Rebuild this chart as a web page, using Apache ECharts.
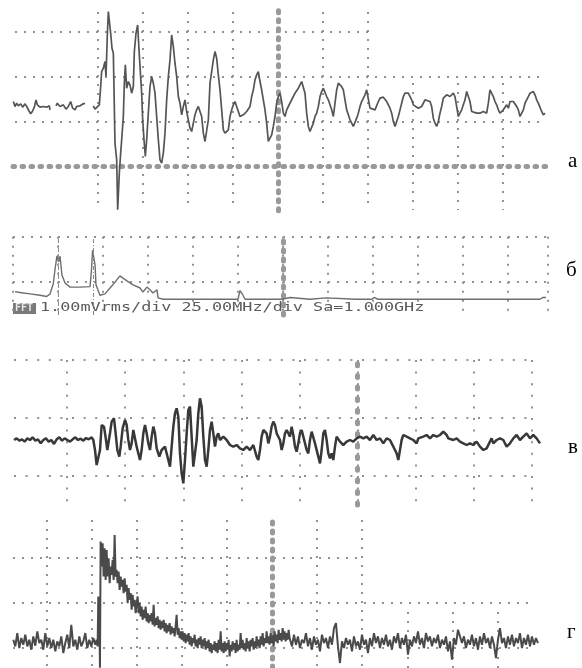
<!DOCTYPE html>
<html><head><meta charset="utf-8">
<script src="https://cdn.jsdelivr.net/npm/echarts@6/dist/echarts.min.js"></script>
<style>html,body{margin:0;padding:0;background:#fff}#c{width:582px;height:668px}</style>
</head><body><div id="c"></div>
<script>
// ---- panel а : transient signal (time in samples, amplitude in ADC counts, 0 = trigger / centre)
const traceA = [[-794,193],[-789,178],[-784,188],[-779,180],[-772,186],[-766,176],[-759,186],[-754,178],[-746,163],[-742,156],[-737,163],[-731,176],[-726,198],[-722,183],[-714,176],[-704,178],[-694,176],[-686,180],[-684,168],[-675,null],[-666,180],[-662,188],[-654,178],[-644,183],[-636,170],[-629,178],[-622,193],[-616,173],[-609,168],[-604,178],[-594,180],[-584,186],[-579,188],[-566,null],[-554,180],[-549,170],[-544,176],[-536,183],[-532,238],[-529,283],[-524,293],[-519,313],[-516,268],[-512,393],[-509,463],[-506,463],[-502,398],[-498,353],[-494,338],[-489,68],[-484,18],[-481,-132],[-478,-132],[-476,-22],[-472,38],[-469,78],[-464,148],[-461,248],[-458,303],[-454,233],[-449,253],[-444,243],[-439,218],[-434,238],[-431,343],[-426,398],[-421,423],[-417,348],[-414,343],[-409,218],[-406,138],[-402,78],[-398,28],[-394,78],[-389,158],[-384,238],[-379,268],[-374,248],[-369,218],[-364,148],[-359,78],[-354,18],[-349,8],[-344,38],[-339,98],[-334,198],[-329,268],[-324,318],[-319,393],[-314,358],[-309,308],[-304,268],[-299,208],[-294,188],[-289,153],[-284,178],[-279,198],[-274,163],[-269,138],[-264,113],[-259,103],[-254,128],[-249,153],[-244,168],[-239,178],[-234,163],[-229,148],[-224,98],[-219,73],[-214,68],[-209,138],[-204,248],[-199,283],[-194,318],[-189,343],[-184,323],[-179,273],[-174,228],[-169,168],[-164,108],[-159,98],[-154,93],[-149,108],[-144,148],[-139,168],[-134,183],[-129,193],[-124,178],[-119,163],[-114,148],[-109,153],[-104,153],[-94,163],[-84,178],[-79,208],[-74,228],[-69,258],[-64,273],[-59,283],[-54,253],[-49,228],[-44,198],[-39,168],[-34,128],[-29,73],[-24,78],[-19,93],[-14,118],[-9,148],[-4,188],[1,208],[6,218],[11,193],[16,158],[21,148],[26,168],[31,178],[36,183],[51,218],[61,233],[71,253],[76,248],[81,218],[86,158],[91,118],[96,103],[101,108],[106,128],[111,148],[116,158],[121,178],[126,208],[131,223],[136,233],[141,228],[146,208],[151,198],[161,168],[166,148],[171,188],[176,228],[181,248],[186,253],[191,238],[196,228],[201,198],[206,168],[211,153],[216,138],[221,128],[226,118],[231,123],[236,143],[241,158],[246,178],[251,193],[256,198],[261,213],[266,228],[271,223],[276,173],[281,168],[291,168],[296,173],[301,193],[306,203],[316,206],[321,208],[326,193],[336,173],[341,158],[346,133],[351,118],[356,123],[361,148],[366,168],[371,188],[376,208],[381,218],[386,213],[391,218],[396,213],[401,198],[406,183],[411,178],[421,173],[431,178],[436,183],[441,198],[446,203],[456,193],[461,178],[466,143],[471,128],[476,118],[481,133],[486,158],[491,178],[496,203],[501,208],[506,213],[516,208],[526,218],[531,208],[536,178],[541,148],[546,153],[551,168],[556,173],[561,198],[566,223],[571,223],[576,193],[581,163],[586,168],[596,158],[606,158],[616,163],[626,158],[631,188],[636,228],[641,233],[646,208],[651,193],[656,183],[661,168],[666,158],[676,168],[686,183],[691,173],[696,193],[701,198],[706,193],[716,178],[721,168],[726,148],[731,153],[736,168],[741,188],[746,198],[751,208],[756,218],[761,213],[766,223],[771,213],[776,198],[781,188],[786,183],[791,163],[796,153],[801,158]];

// ---- panel б : FFT spectrum (frequency MHz, amplitude mVrms)
const fftFreq = [1.1,3.9,9.4,15.0,18.7,20.6,22.4,23.3,24.4,25.3,26.1,27.2,28.9,29.8,31.7,37.2,42.8,43.6,44.2,45.0,45.6,46.1,48.3,51.1,53.9,56.7,59.4,61.1,63.3,66.7,70.6,72.2,74.4,76.1,77.8,80.0,80.6,83.3,125.0,126.1,127.8,128.9,149.4,150.0,153.9,154.4,165.0,165.6,173.9,174.4,190.6,191.1,193.9,199.4,200.6,202.8,213.9,215.0,217.2,226.7,227.8,229.4,250.6,251.7,253.9,292.8,294.4,296.1];
const fftAmp = [0.78,0.76,0.73,0.70,0.67,0.73,0.96,1.26,1.57,1.44,1.57,1.15,0.97,0.93,0.88,0.88,0.89,1.26,1.70,1.70,1.37,0.93,0.70,0.73,0.86,0.99,1.13,1.08,1.02,0.93,0.86,0.77,0.88,0.82,0.75,0.82,0.64,0.61,0.61,0.80,0.70,0.61,0.61,0.65,0.65,0.61,0.61,0.64,0.64,0.61,0.61,0.64,0.61,0.61,0.65,0.61,0.61,0.64,0.61,0.61,0.64,0.61,0.61,0.64,0.61,0.61,0.65,0.65];
const fftMarkers = [25, 44.4];
const fftCaption = ['FFT', '1.00mVrms/div 25.00MHz/div Sa=1.000GHz'];

// ---- panel в
const traceC = [[-1029,-66],[-1021,-61],[-1013,-68],[-1005,-64],[-997,-71],[-989,-61],[-981,-66],[-973,-58],[-965,-68],[-957,-64],[-949,-76],[-941,-66],[-933,-61],[-925,-71],[-917,-66],[-909,-78],[-901,-64],[-893,-58],[-885,-68],[-877,-61],[-869,-66],[-861,-71],[-853,-64],[-845,-58],[-837,-66],[-829,-62],[-821,-68],[-813,-60],[-805,-64],[-796,-58],[-791,-66],[-786,-96],[-781,-141],[-776,-146],[-771,-96],[-766,-21],[-759,-26],[-753,-66],[-749,-96],[-741,-46],[-736,-11],[-729,-1],[-723,-56],[-719,-96],[-713,-116],[-709,-86],[-703,-31],[-696,-6],[-691,-21],[-686,-66],[-681,-96],[-676,-76],[-671,-36],[-666,-41],[-661,-86],[-656,-106],[-651,-126],[-646,-96],[-641,-46],[-636,-21],[-631,-46],[-626,-76],[-621,-96],[-616,-56],[-611,-26],[-606,-46],[-601,-91],[-593,-116],[-586,-96],[-581,-96],[-576,-86],[-571,-106],[-566,-126],[-561,-146],[-556,-86],[-551,-26],[-546,14],[-541,29],[-536,4],[-531,-106],[-526,-166],[-521,-196],[-516,-126],[-511,-46],[-506,24],[-501,34],[-496,-56],[-491,-146],[-486,-141],[-481,-66],[-476,14],[-471,59],[-466,34],[-461,-56],[-456,-126],[-451,-146],[-446,-96],[-441,-36],[-436,-11],[-431,-46],[-426,-86],[-421,-56],[-416,-46],[-411,-66],[-401,-56],[-391,-66],[-381,-81],[-371,-86],[-361,-81],[-351,-91],[-341,-96],[-331,-86],[-321,-96],[-311,-81],[-301,-116],[-296,-126],[-291,-96],[-286,-56],[-281,-36],[-276,-31],[-271,-46],[-266,-76],[-261,-56],[-256,-26],[-251,-11],[-246,-21],[-241,-46],[-231,-66],[-226,-96],[-221,-76],[-216,-46],[-211,-36],[-201,-56],[-196,-26],[-191,-51],[-186,-86],[-181,-101],[-176,-76],[-171,-46],[-166,-36],[-161,-56],[-151,-96],[-146,-106],[-141,-66],[-136,-41],[-131,-46],[-126,-76],[-116,-116],[-111,-136],[-106,-96],[-101,-46],[-96,-36],[-91,-66],[-86,-106],[-81,-121],[-76,-106],[-71,-126],[-66,-86],[-61,-56],[-56,-51],[-51,-71],[-41,-81],[-31,-71],[-21,-66],[-11,-71],[-1,-61],[9,-56],[14,-51],[19,-61],[29,-56],[39,-66],[49,-51],[59,-66],[69,-61],[79,-76],[89,-61],[99,-66],[109,-86],[114,-96],[119,-106],[124,-126],[129,-96],[134,-66],[139,-51],[149,-56],[159,-61],[169,-66],[179,-76],[184,-61],[199,-56],[209,-51],[219,-61],[229,-51],[239,-56],[249,-51],[259,-41],[264,-36],[269,-51],[274,-61],[279,-56],[289,-66],[299,-61],[309,-71],[319,-76],[329,-81],[339,-76],[349,-81],[359,-71],[369,-86],[379,-96],[389,-91],[399,-71],[404,-61],[409,-76],[419,-66],[429,-61],[439,-66],[449,-86],[459,-76],[469,-61],[479,-51],[489,-66],[499,-56],[509,-46],[519,-61],[529,-51],[539,-61],[549,-76]];

// ---- panel г
const traceD = [[-777,25],[-771,5],[-765,45],[-759,0],[-753,30],[-747,10],[-741,40],[-735,5],[-729,25],[-723,-5],[-717,35],[-711,7],[-705,50],[-699,15],[-693,25],[-687,-5],[-681,45],[-675,5],[-669,30],[-663,0],[-657,25],[-651,-10],[-645,20],[-639,5],[-633,35],[-627,-15],[-621,15],[-615,40],[-609,0],[-603,70],[-597,5],[-591,25],[-585,-5],[-579,35],[-573,5],[-567,20],[-561,45],[-555,0],[-549,25],[-543,5],[-537,30],[-531,10],[-527,25],[-524,5],[-522,155],[-519,115],[-517,-59],[-515,320],[-512,245],[-509,315],[-506,215],[-503,300],[-500,205],[-497,295],[-494,215],[-491,270],[-488,195],[-485,245],[-482,220],[-479,265],[-476,205],[-473,340],[-470,215],[-467,235],[-464,195],[-461,230],[-458,175],[-455,215],[-452,185],[-449,205],[-446,165],[-443,210],[-440,170],[-437,190],[-434,135],[-431,180],[-428,145],[-425,165],[-422,115],[-419,160],[-416,125],[-413,145],[-410,105],[-407,135],[-404,155],[-401,105],[-398,135],[-395,95],[-392,125],[-389,85],[-386,115],[-383,90],[-380,125],[-377,80],[-374,105],[-371,75],[-368,100],[-365,80],[-362,105],[-359,70],[-356,130],[-353,65],[-350,90],[-347,70],[-344,95],[-341,60],[-338,85],[-335,55],[-332,80],[-329,60],[-326,85],[-323,50],[-320,75],[-317,45],[-314,70],[-311,50],[-308,75],[-305,40],[-302,65],[-299,45],[-296,60],[-293,35],[-290,65],[-287,100],[-284,40],[-281,60],[-278,30],[-275,50],[-272,25],[-269,50],[-266,20],[-263,45],[-260,15],[-257,40],[-254,20],[-251,45],[-248,10],[-245,35],[-242,5],[-239,30],[-236,15],[-233,40],[-230,5],[-227,25],[-224,0],[-221,30],[-218,10],[-215,35],[-212,0],[-209,25],[-206,5],[-203,30],[-200,-5],[-197,20],[-194,0],[-191,25],[-188,-10],[-185,15],[-182,-15],[-179,10],[-176,-5],[-173,20],[-170,-10],[-167,15],[-164,-15],[-161,25],[-158,-5],[-155,50],[-152,-10],[-149,15],[-146,-15],[-143,20],[-140,-10],[-137,15],[-134,-5],[-131,25],[-128,-25],[-125,10],[-122,-10],[-119,20],[-116,-5],[-113,15],[-110,-15],[-107,25],[-104,-10],[-101,10],[-98,-5],[-95,45],[-92,0],[-89,25],[-86,-5],[-83,15],[-80,-10],[-77,30],[-74,0],[-71,20],[-68,-10],[-65,25],[-62,5],[-59,30],[-56,-5],[-53,20],[-50,0],[-47,35],[-44,5],[-41,25],[-38,0],[-35,35],[-32,10],[-29,45],[-26,5],[-23,30],[-20,15],[-17,50],[-14,15],[-11,35],[-8,10],[-5,45],[-2,15],[1,40],[4,5],[7,50],[10,20],[13,40],[16,15],[19,55],[22,25],[25,45],[28,20],[31,60],[34,25],[37,50],[40,20],[43,45],[46,25],[49,55],[52,30],[53,30],[59,5],[65,40],[71,10],[77,35],[83,0],[89,25],[95,15],[101,45],[107,5],[113,30],[119,-5],[125,35],[131,10],[137,25],[143,-10],[149,40],[155,15],[161,30],[167,0],[173,35],[179,10],[185,60],[191,75],[197,5],[203,-45],[209,20],[215,0],[221,30],[227,10],[233,25],[239,-10],[245,35],[251,5],[257,20],[263,-5],[269,40],[275,10],[281,25],[287,-15],[293,30],[299,5],[305,45],[311,15],[317,35],[323,0],[329,30],[335,10],[341,40],[347,5],[353,25],[359,-5],[365,35],[371,15],[377,45],[383,0],[389,30],[395,10],[401,40],[407,-20],[413,25],[419,5],[425,35],[431,15],[437,50],[443,10],[449,30],[455,0],[461,45],[467,20],[473,35],[479,5],[485,30],[491,15],[497,40],[503,0],[509,25],[515,10],[521,35],[527,-10],[533,20],[539,-35],[545,30],[551,10],[557,55],[563,60],[569,15],[575,35],[581,0],[587,25],[593,10],[599,40],[605,5],[611,30],[617,-5],[623,35],[629,10],[635,45],[641,15],[647,30],[653,0],[659,35],[665,10],[671,-30],[677,25],[683,60],[689,15],[695,30],[701,0],[707,35],[713,10],[719,40],[725,5],[731,30],[737,15],[743,45],[749,0],[755,30],[761,10],[767,40],[773,5],[779,35],[785,10],[791,30],[797,15]];

const panelLabels = ['а', 'б', 'в', 'г'];

// ---------- styling / layout helpers ----------
const GRIDC = '#939393';
const TICKC = '#999999';
const off = { show: false };
function vAxis(o) { return Object.assign({ type: 'value', axisTick: off, axisLabel: off, axisLine: off, splitLine: off }, o); }
function dots(gap, minL, maxL) {
  return { show: true, showMinLine: !!minL, showMaxLine: !!maxL, lineStyle: { color: GRIDC, width: 2, type: [2, gap] } };
}
function bars(w, dash, gap) { return { show: true, onZero: true, lineStyle: { color: TICKC, width: w, type: [dash, gap] } }; }

const grids = [], xAxes = [], yAxes = [];
function addGrid(g, xa, ya) {
  const gi = grids.length;
  grids.push(g); xa.gridIndex = gi; ya.gridIndex = gi; xAxes.push(xa); yAxes.push(ya);
  return gi;
}
// graticule pieces of the scope screens (axis units = divisions)
function vRule(left, top, width, height, n, gap, showMin, showMax) {
  addGrid({ left, top, width, height },
    vAxis({ min: 0, max: n, interval: 1, splitLine: dots(gap, showMin, showMax) }), vAxis({ min: 0, max: 1 }));
}
function hRule(left, top, width, height, n, gap, showMin, showMax) {
  addGrid({ left, top, width, height },
    vAxis({ min: 0, max: 1 }), vAxis({ min: 0, max: n, interval: 1, splitLine: dots(gap, showMin, showMax) }));
}

// а graticule
vRule(98, 12, 270, 198, 6, 7, true, true);
vRule(413, 83, 90, 127, 2, 7, true, true);
hRule(15, 31.7, 353, 45, 1, 7, false, true);
hRule(15, 76.3, 531, 45, 1, 7, true, true);
// б graticule
hRule(13, 236.7, 535, 45, 1, 7, true, true);
vRule(13, 236.7, 495, 78, 11, 7, true, true);
vRule(508, 236.7, 40, 78, 1, 7, false, true);
// в graticule
hRule(14, 360, 518, 116, 2, 9.6, true, true);
vRule(67, 360, 465, 145, 8, 9.6, true, true);
// г graticule
vRule(47, 520, 315, 148, 7, 7, true, true);
vRule(408, 612, 90, 56, 2, 7, true, true);
hRule(13, 557.7, 350, 45, 1, 7, false, true);
hRule(13, 603, 522, 45, 1, 7, true, true);

// signal grids
const gA = addGrid({ left: 13, top: 9.3, width: 533, height: 201.4 },
  vAxis({ min: -795, max: 804, axisLine: bars(5, 1.6, 7.4) }),
  vAxis({ min: -135, max: 470, axisLine: bars(5, 2, 7) }));
const gB = addGrid({ left: 13, top: 236.7, width: 534.6, height: 78.3 },
  vAxis({ min: 0, max: 297 }),
  vAxis({ min: 0.26, max: 2, offset: -270, axisLine: { show: true, onZero: false, lineStyle: { color: TICKC, width: 5, type: [2, 7] } } }));
const gC = addGrid({ left: 9, top: 360, width: 541.3, height: 145 },
  vAxis({ min: -1044, max: 580 }),
  vAxis({ min: -261, max: 174, axisLine: bars(5, 2, 9.6) }));
const gD = addGrid({ left: 2.3, top: 520, width: 540, height: 148.3 },
  vAxis({ min: -810, max: 810 }),
  vAxis({ min: -60, max: 385, axisLine: bars(5, 2, 7) }));

function trace(gi, data, color, width, extra) {
  return Object.assign({ type: 'line', xAxisIndex: gi, yAxisIndex: gi, data, showSymbol: false, symbol: 'none',
    connectNulls: false, clip: true, lineStyle: { color, width } }, extra || {});
}

const chart = echarts.init(document.getElementById('c'), null, { renderer: 'canvas' });
chart.setOption({
  animation: false,
  backgroundColor: '#ffffff',
  grid: grids, xAxis: xAxes, yAxis: yAxes,
  series: [
    trace(gA, traceA, '#555555', 1.7),
    trace(gB, fftFreq.map((f, i) => [f, fftAmp[i]]), '#6e6e6e', 1.4, {
      markLine: { silent: true, symbol: 'none', label: { show: false },
        lineStyle: { color: '#8a8a8a', width: 1, type: [4, 2, 1, 2] },
        data: fftMarkers.map(v => ({ xAxis: v })) } }),
    trace(gC, traceC, '#383838', 2.5),
    trace(gD, traceD, '#4a4a4a', 2)
  ],
  graphic: [
    { type: 'rect', left: 13, top: 303, shape: { width: 23, height: 11 }, style: { fill: '#7a7a7a' } },
    { type: 'text', left: 15, top: 303.5, style: { text: fftCaption[0], fill: '#e8e8e8', font: 'bold 10px "DejaVu Sans Mono"' } },
    { type: 'text', left: 40, top: 302, scaleX: 1.4, style: { text: fftCaption[1], fill: '#5a5a5a', font: '12px "DejaVu Sans Mono"' } },
    { type: 'text', x: 568, y: 161, style: { text: panelLabels[0], fill: '#000', font: '21px "Liberation Serif"', verticalAlign: 'middle' } },
    { type: 'text', x: 566, y: 270, style: { text: panelLabels[1], fill: '#000', font: '21px "Liberation Serif"', verticalAlign: 'middle' } },
    { type: 'text', x: 568, y: 447, style: { text: panelLabels[2], fill: '#000', font: '21px "Liberation Serif"', verticalAlign: 'middle' } },
    { type: 'text', x: 567, y: 632, style: { text: panelLabels[3], fill: '#000', font: '21px "Liberation Serif"', verticalAlign: 'middle' } }
  ]
});
</script>
</body></html>
